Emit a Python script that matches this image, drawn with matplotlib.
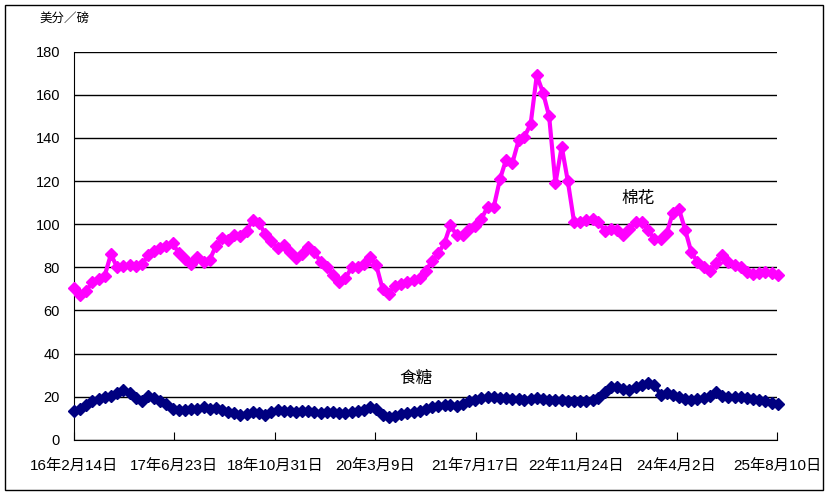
import pandas as pd
import matplotlib.pyplot as plt
from matplotlib.patches import Rectangle

plt.rcParams['font.family'] = ['Liberation Sans', 'Noto Sans CJK SC', 'DejaVu Sans']

# monthly readings, Feb 2016 - Aug 2025 (cents per pound)
months = pd.date_range('2016-02-01', periods=115, freq='MS') + pd.Timedelta(days=13)

cotton = [70.5, 67, 69, 73, 74.5, 76, 86, 80, 80.5, 81,
          80.5, 81.5, 85.5, 87.5, 89, 90, 91.5, 86.5, 84, 81.5,
          85, 82.5, 83.5, 90, 93.5, 92.5, 95, 94.5, 97, 102,
          100.5, 95.5, 92, 89, 90.5, 87, 84.5, 86, 89.5, 87,
          82.5, 80, 76.5, 73, 75, 80, 80, 81.5, 85, 81,
          70, 67.5, 71.5, 72.5, 73, 74, 75, 78.5, 83, 86.5,
          91.5, 99.5, 95, 95, 98, 99, 102.5, 108, 108, 121,
          130, 128.5, 139, 140.5, 146.5, 169, 161, 150, 119, 136,
          120, 101, 101, 102, 102.5, 101, 97, 98, 97.5, 95,
          98, 101, 101, 97.5, 93, 93, 96, 105, 107, 97.5,
          87, 82.5, 80, 78.5, 82, 85.5, 82.5, 81, 80, 78,
          77, 77.5, 78, 77.5, 76.5]

sugar = [13.5, 14.5, 16, 17.8, 19, 20, 20.5, 21.5, 23, 21.5,
         19.5, 18, 20.5, 19.5, 17.8, 16.5, 14.5, 14, 14, 14.5,
         14.5, 15, 14.5, 14.8, 14, 13, 12.5, 11.6, 12, 13,
         12.5, 11.6, 13, 13.9, 13.5, 13.2, 13, 13.2, 13.5, 13,
         12.5, 13, 13, 12.5, 12.5, 13, 13.5, 14, 15, 14.5,
         11.5, 10.5, 11, 12, 12.5, 13, 13.5, 14.5, 15, 15.5,
         16.2, 16, 15.5, 16.5, 17.8, 18.5, 19.5, 20, 19.8, 19.5,
         19.5, 19, 18.8, 18.5, 19, 19.5, 19, 18.5, 18.5, 18.3,
         18, 17.8, 17.8, 17.8, 18.5, 19.5, 22, 24.5, 24.5, 23.5,
         23, 24.5, 25.5, 26.2, 25.5, 21, 21.5, 21, 20, 19,
         18.5, 19, 19.5, 20.5, 22, 20.5, 20, 20, 19.8, 19.5,
         19, 18.5, 18, 17, 16.5]

tick_dates = pd.to_datetime(['2016-02-14', '2017-06-23', '2018-10-31', '2020-03-09',
                             '2021-07-17', '2022-11-24', '2024-04-02', '2025-08-10'])
tick_labels = ['16年2月14日', '17年6月23日', '18年10月31日', '20年3月9日',
               '21年7月17日', '22年11月24日', '24年4月2日', '25年8月10日']

fig = plt.figure(figsize=(8.31, 4.97), dpi=100)
ax = fig.add_axes([0.089, 0.115, 0.846, 0.781])

ax.plot(months, cotton, color='#FF00FF', lw=3, marker='D', ms=6, clip_on=False, zorder=3)
ax.plot(months, sugar, color='#000080', lw=3, marker='D', ms=6, clip_on=False, zorder=3)

ax.set_ylim(0, 180)
ax.set_yticks(range(0, 181, 20))
ax.yaxis.grid(True, color='black', lw=1)
ax.set_axisbelow(True)
ax.tick_params(axis='y', length=0, pad=10, labelsize=10.5)

ax.set_xlim(tick_dates[0], tick_dates[-1])
ax.set_xticks(tick_dates)
ax.set_xticklabels(tick_labels)
ax.tick_params(axis='x', direction='in', length=6, pad=14, labelsize=11)

for s in ['top', 'right']:
    ax.spines[s].set_visible(False)

ax.text(pd.Timestamp('2023-09-27'), 112, '棉花', fontsize=12, ha='center', va='center')
ax.text(pd.Timestamp('2020-09-28'), 28.5, '食糖', fontsize=12, ha='center', va='center')
fig.text(0.047, 0.962, '美分／磅', fontsize=9, va='center')

fig.patches.append(Rectangle((0.006, 0.014), 0.984, 0.976, transform=fig.transFigure,
                             fill=False, edgecolor='black', lw=1))

fig.savefig('out.png', dpi=100)
